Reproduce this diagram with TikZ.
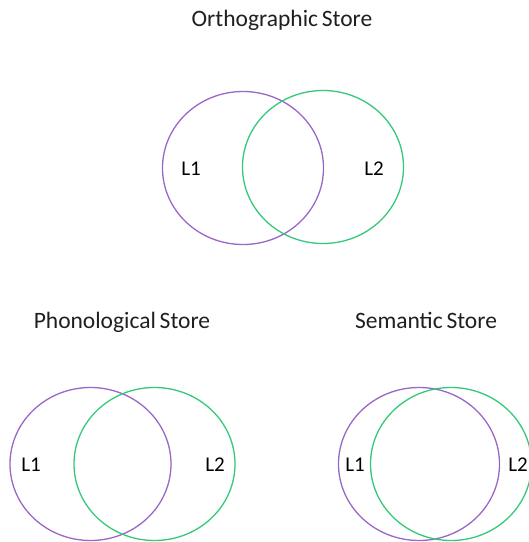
\documentclass[tikz,border=0pt]{standalone}
\usepackage{fontspec}
\setmainfont{Carlito}
\usetikzlibrary{shapes.geometric}
\definecolor{vpurple}{RGB}{152,104,200}
\definecolor{vgreen}{RGB}{52,200,122}
\tikzset{
  x=1pt,y=1pt,
  venn/.style={draw, ellipse, line width=1.3pt, minimum width=161pt, minimum height=153pt, inner sep=0pt},
  pset/.style={venn, draw=vpurple},
  gset/.style={venn, draw=vgreen},
  ttl/.style={font=\fontsize{23.5}{26}\selectfont, text=black!88, inner sep=0pt, anchor=base},
  lbl/.style={font=\fontsize{21}{24}\selectfont, text=black, inner sep=0pt},
}
\begin{document}
\begin{tikzpicture}
\useasboundingbox (0,0) rectangle (529,-542);
% top
\node[ttl] (t1) at (282,-26.7) {Orthographic\hspace{-1.5pt} Store};
\node[pset] (op) at (243,-168) {};
\node[gset] (og) at (323,-167) {};
\node[lbl] (ol1) at (191,-169) {L1};
\node[lbl] (ol2) at (374,-169) {L2};
% bottom left
\node[ttl] (t2) at (122,-328) {Phonological\hspace{-1.5pt} Store};
\node[pset] (pp) at (90.5,-464) {};
\node[gset] (pg) at (154.5,-464) {};
\node[lbl] (pl1) at (31,-464.5) {L1};
\node[lbl] (pl2) at (215,-464.5) {L2};
% bottom right
\node[ttl] (t3) at (426,-328) {Semantic\hspace{-1.5pt} Store};
\node[pset] (sp) at (419,-464) {};
\node[gset] (sg) at (451,-464) {};
\node[lbl] (sl1) at (355,-464.5) {L1};
\node[lbl] (sl2) at (518,-464.5) {L2};
\end{tikzpicture}
\end{document}
